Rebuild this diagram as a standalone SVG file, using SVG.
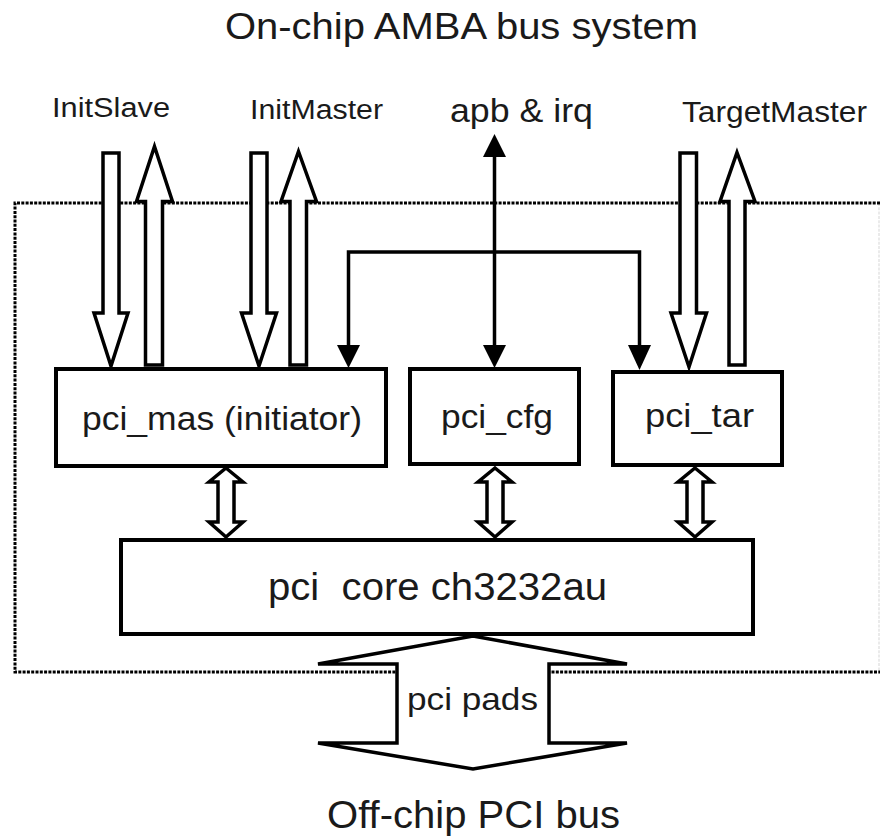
<svg xmlns="http://www.w3.org/2000/svg" width="880" height="836" viewBox="0 0 880 836">
  <style>
    text { font-family: "Liberation Sans", Arial, sans-serif; fill: #1a1a1a; }
    .box { fill: #fff; stroke: #000; stroke-width: 4; }
    .hollow { fill: #fff; stroke: #000; stroke-width: 3.5; stroke-linejoin: miter; }
    .line { fill: none; stroke: #000; stroke-width: 3.5; }
    .head { fill: #000; stroke: none; }
    .dotted { fill: none; stroke: #000; stroke-width: 3; stroke-dasharray: 3 1.3; }
  </style>

  <!-- boundary of the on-chip region -->
  <g id="chip-boundary">
    <line x1="879" y1="203" x2="879" y2="672" stroke="#e4e4e4" stroke-width="1.5" stroke-dasharray="3 1.3"/>
    <path class="dotted" d="M880,203 H15 V672 H880"/>
  </g>

  <text id="title" x="225" y="39" font-size="36" textLength="473" lengthAdjust="spacingAndGlyphs">On-chip AMBA bus system</text>
  <text id="lbl-initslave" x="52" y="117" font-size="27" textLength="118" lengthAdjust="spacingAndGlyphs">InitSlave</text>
  <text id="lbl-initmaster" x="250" y="119" font-size="27" textLength="133" lengthAdjust="spacingAndGlyphs">InitMaster</text>
  <text id="lbl-apb" x="450" y="122" font-size="34" textLength="143" lengthAdjust="spacingAndGlyphs">apb &amp; irq</text>
  <text id="lbl-targetmaster" x="682" y="122" font-size="29" textLength="185" lengthAdjust="spacingAndGlyphs">TargetMaster</text>

  <g id="connectors">
    <!-- InitSlave down / up -->
    <polygon class="hollow" points="103,153 119,153 119,313 128,313 111,366 94,313 103,313"/>
    <polygon class="hollow" points="154.5,146.5 172.5,201.5 162.5,201.5 162.5,365 145.5,365 145.5,201.5 136.5,201.5"/>
    <!-- InitMaster down / up -->
    <polygon class="hollow" points="251,153 267,153 267,313 276.5,313 259,366 241.5,313 251,313"/>
    <polygon class="hollow" points="298.5,151.5 316.5,201.5 306.5,201.5 306.5,365 290,365 290,201.5 281,201.5"/>
    <!-- TargetMaster down / up -->
    <polygon class="hollow" points="680,153 696.5,153 696.5,313 706.5,313 689,367 671,313 680,313"/>
    <polygon class="hollow" points="737,152.5 755,201.5 745,201.5 745,365 729,365 729,201.5 720,201.5"/>

    <!-- apb & irq bidirectional -->
    <line class="line" x1="494.5" y1="150" x2="494.5" y2="350"/>
    <polygon class="head" points="494.5,134 506,157 483,157"/>
    <polygon class="head" points="483,345 506,345 494.5,368"/>

    <!-- cfg bus to pci_mas and pci_tar -->
    <path class="line" d="M348.5,350 V252 H639.5 V350"/>
    <polygon class="head" points="337,345 360,345 348.5,368"/>
    <polygon class="head" points="628,345 651,345 639.5,370"/>

    <!-- block to core double arrows -->
    <polygon class="hollow" points="226,468 243,482 234,482 234,522 243,522 226,537 209,522 218,522 218,482 209,482"/>
    <polygon class="hollow" points="495,468 512,482 503,482 503,522 512,522 495,537 478,522 487,522 487,482 478,482"/>
    <polygon class="hollow" points="695,468 712,482 703,482 703,522 712,522 695,537 678,522 687,522 687,482 678,482"/>

    <!-- pci pads -->
    <polygon class="hollow" points="473,636 627,664 549,664 549,743 627,743 473,769 318,743 397,743 397,664 318,664"/>
  </g>
  <text id="lbl-pads" x="407" y="710" font-size="32" textLength="131" lengthAdjust="spacingAndGlyphs">pci pads</text>

  <g id="pci_mas">
    <rect class="box" x="56" y="369" width="330" height="97"/>
    <text x="82" y="430" font-size="34" textLength="280" lengthAdjust="spacingAndGlyphs">pci_mas (initiator)</text>
  </g>
  <g id="pci_cfg">
    <rect class="box" x="410" y="369" width="169" height="95"/>
    <text x="441" y="428" font-size="34" textLength="112" lengthAdjust="spacingAndGlyphs">pci_cfg</text>
  </g>
  <g id="pci_tar">
    <rect class="box" x="613" y="372" width="169" height="93"/>
    <text x="645" y="427" font-size="34" textLength="109" lengthAdjust="spacingAndGlyphs">pci_tar</text>
  </g>
  <g id="pci_core">
    <rect class="box" x="121" y="540" width="632" height="94"/>
    <text x="268" y="600" font-size="38" textLength="339" lengthAdjust="spacingAndGlyphs" xml:space="preserve">pci  core ch3232au</text>
  </g>

  <text id="lbl-offchip" x="327" y="828" font-size="38" textLength="293" lengthAdjust="spacingAndGlyphs">Off-chip PCI bus</text>
</svg>
